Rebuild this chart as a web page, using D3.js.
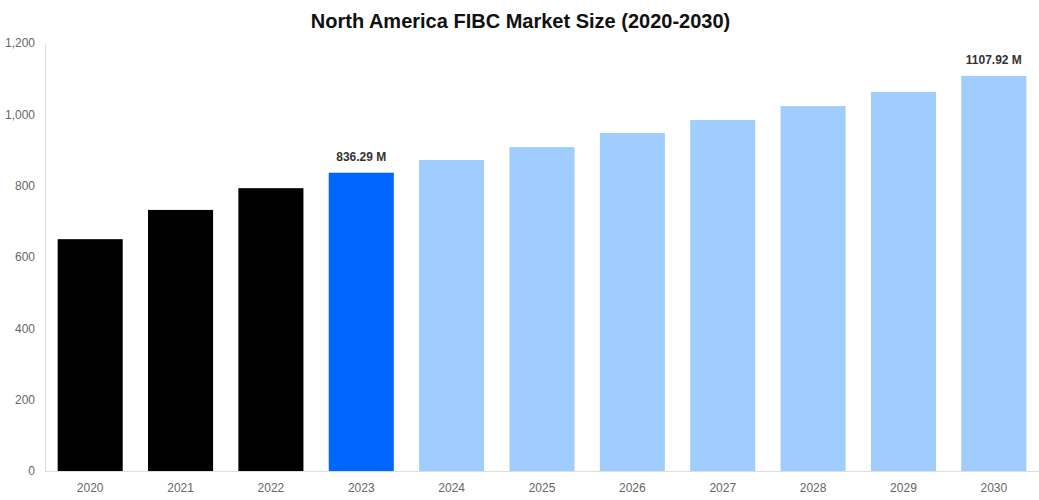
<!DOCTYPE html>
<html>
<head>
<meta charset="utf-8">
<script src="https://cdn.jsdelivr.net/npm/d3@7"></script>
<style>
body{margin:0;background:#fff;font-family:"Liberation Sans",Arial,sans-serif;}
</style>
</head>
<body>
<div id="chart"></div>
<script>
// data
const years=["2020","2021","2022","2023","2024","2025","2026","2027","2028","2029","2030"];
const values=[650,732,793,836.29,872,908,948,984,1023,1063,1107.92];
const colors=["#000000","#000000","#000000","#0066ff","#a0cdfd","#a0cdfd","#a0cdfd","#a0cdfd","#a0cdfd","#a0cdfd","#a0cdfd"];
const labels={"2023":"836.29 M","2030":"1107.92 M"};
const yTicks=[0,200,400,600,800,1000,1200];

const w=1039,h=500;
const m={top:43,right:0,bottom:29,left:45};

const svg=d3.select("#chart").append("svg")
    .attr("width",w)
    .attr("height",h);

svg.append("text")
    .attr("x",w/2+1)
    .attr("y",28)
    .attr("text-anchor","middle")
    .attr("font-size","20px")
    .attr("font-weight","bold")
    .attr("fill","#111")
    .text("North America FIBC Market Size (2020-2030)");

const x=d3.scaleBand()
    .domain(years)
    .range([m.left,w-m.right])
    .paddingInner(0.28)
    .paddingOuter(0.14);

const y=d3.scaleLinear()
    .domain([0,1200])
    .range([h-m.bottom,m.top]);

//axes
const yAxis=svg.append("g")
    .attr("transform","translate("+m.left+",0)")
    .call(d3.axisLeft(y).tickValues(yTicks).tickSize(0).tickPadding(10).tickFormat(d3.format(",")));
const xAxis=svg.append("g")
    .attr("transform","translate(0,"+(h-m.bottom)+")")
    .call(d3.axisBottom(x).tickSize(0).tickPadding(12));
[yAxis,xAxis].forEach(a=>{
    a.select(".domain").attr("stroke","#ddd");
    a.selectAll("text").attr("fill","#666").attr("font-size","12px")
        .attr("font-family","Liberation Sans,Arial,sans-serif");
});

//bars
svg.selectAll("rect.bar")
    .data(years)
    .enter()
    .append("rect")
    .attr("class","bar")
    .attr("x",d=>x(d))
    .attr("width",x.bandwidth())
    .attr("y",(d,i)=>y(values[i]))
    .attr("height",(d,i)=>y(0)-y(values[i]))
    .attr("fill",(d,i)=>colors[i]);

//value labels
svg.selectAll("text.lbl")
    .data(years.filter(d=>labels[d]))
    .enter()
    .append("text")
    .attr("class","lbl")
    .attr("x",d=>x(d)+x.bandwidth()/2)
    .attr("y",d=>y(values[years.indexOf(d)])-12)
    .attr("text-anchor","middle")
    .attr("font-size","12px")
    .attr("font-weight","bold")
    .attr("fill","#333")
    .text(d=>labels[d]);
</script>
</body>
</html>
